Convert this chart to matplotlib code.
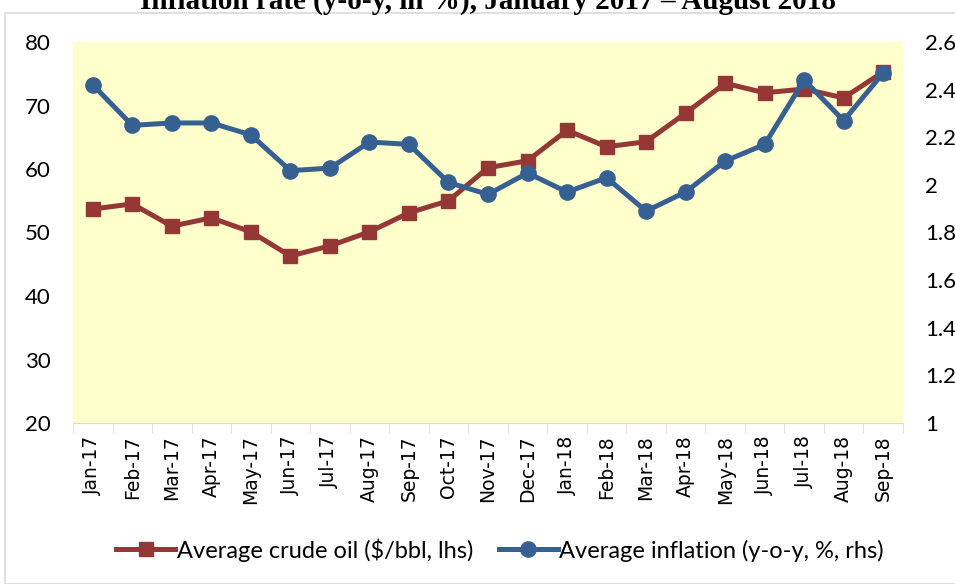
import matplotlib.pyplot as plt
from matplotlib.patches import Rectangle
import numpy as np

months = ['Jan-17', 'Feb-17', 'Mar-17', 'Apr-17', 'May-17', 'Jun-17', 'Jul-17',
          'Aug-17', 'Sep-17', 'Oct-17', 'Nov-17', 'Dec-17', 'Jan-18', 'Feb-18',
          'Mar-18', 'Apr-18', 'May-18', 'Jun-18', 'Jul-18', 'Aug-18', 'Sep-18']
crude_oil = [53.7, 54.5, 51.0, 52.3, 50.1, 46.3, 47.9, 50.1, 53.1, 55.0, 60.2,
             61.3, 66.1, 63.5, 64.3, 68.8, 73.5, 72.0, 72.6, 71.2, 75.3]
inflation = [2.42, 2.25, 2.26, 2.26, 2.21, 2.06, 2.07, 2.18, 2.17, 2.01, 1.96,
             2.05, 1.97, 2.03, 1.89, 1.97, 2.10, 2.17, 2.44, 2.27, 2.47]

red = '#953735'
blue = '#376092'
font = ['Lato', 'DejaVu Sans']

fig = plt.figure(figsize=(9.55, 5.84), dpi=100)
W, H = 955, 584

# chart border
fig.patches.append(Rectangle((5 / W, 0), 1, 1 - 13 / H, transform=fig.transFigure,
                             fill=False, edgecolor='#d9d9d9', linewidth=1.2))

fig.text(488 / W, 1 - 1 / H, 'Inflation rate (y-o-y, in %), January 2017 \u2013 August 2018',
         ha='center', va='center', fontsize=21, fontweight='bold',
         family='Liberation Serif')

ax = fig.add_axes([73 / W, (584 - 423) / H, 830 / W, 381 / H])
ax.set_facecolor('#ffffcc')
x = np.arange(len(months))

l1, = ax.plot(x, crude_oil, color=red, lw=3.6, marker='s', ms=10,
              label='Average crude oil ($/bbl, lhs)')
ax.set_ylim(20, 80)
ax.set_xlim(-0.5, len(months) - 0.5)
ax.set_yticks(range(20, 81, 10))

ax2 = ax.twinx()
l2, = ax2.plot(x, inflation, color=blue, lw=3.6, marker='o', ms=11,
               label='Average inflation (y-o-y, %, rhs)')
ax2.set_ylim(1, 2.6)
ax2.set_yticks([1, 1.2, 1.4, 1.6, 1.8, 2, 2.2, 2.4, 2.6])
ax2.set_yticklabels(['1', '1.2', '1.4', '1.6', '1.8', '2', '2.2', '2.4', '2.6'])

for a in (ax, ax2):
    for s in a.spines.values():
        s.set_visible(False)
ax.spines['bottom'].set_visible(True)
ax.spines['bottom'].set_color('#d9d9d9')

ax.set_xticks(x)
ax.set_xticklabels(months, rotation=90)
for lab in ax.get_xticklabels():
    lab.set_family('DejaVu Sans')
    lab.set_fontsize(13.5)
ax.set_xticks(np.arange(-0.5, len(months), 1), minor=True)
ax.tick_params(axis='x', which='major', length=0, pad=9)
ax.tick_params(axis='x', which='minor', length=7, color='#d9d9d9')
ax.tick_params(axis='y', length=0, labelsize=16, pad=16)
ax2.tick_params(axis='y', length=0, labelsize=16, pad=16)
for lab in ax.get_yticklabels() + ax2.get_yticklabels():
    lab.set_family(font)

fig.legend(handles=[l1, l2], loc='center', bbox_to_anchor=(500 / W, 1 - 550 / H),
           ncol=2, frameon=False, prop={'family': font, 'size': 17},
           handlelength=2.5, handletextpad=0.05, columnspacing=1.1)

fig.savefig('out.png', dpi=100)
